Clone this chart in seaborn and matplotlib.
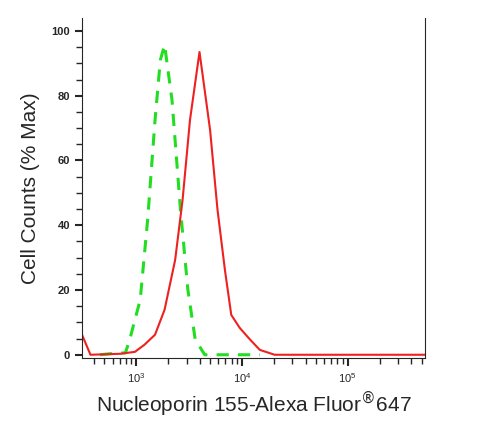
import numpy as np
import matplotlib
matplotlib.use("Agg")
import matplotlib.pyplot as plt
import seaborn as sns
import pandas as pd

# intensity (log10) and % max
red_log = [2.49, 2.57, 2.85, 2.99, 3.08, 3.18, 3.27, 3.37, 3.44, 3.51, 3.60,
           3.70, 3.77, 3.84, 3.90, 3.98, 4.08, 4.17, 4.31, 5.73]
red_val = [6.2, 0, 0.3, 0.9, 3.1, 6.2, 13.9, 29.3, 47.8, 72.5, 93.5,
           69.4, 44.8, 26.2, 12.3, 8.3, 4.6, 1.5, 0, 0]
green_log = [2.66, 2.75, 2.90, 2.94, 3.04, 3.11, 3.18, 3.23, 3.27, 3.34,
             3.42, 3.49, 3.56, 3.65, 4.17]
green_val = [0, 0.3, 0.6, 4.6, 17.0, 41.7, 72.5, 91.0, 95.7, 78.7,
             44.8, 20.1, 4.6, 0, 0]

df = pd.concat([
    pd.DataFrame({"x": 10 ** np.array(red_log), "y": red_val, "s": "stained"}),
    pd.DataFrame({"x": 10 ** np.array(green_log), "y": green_val, "s": "control"}),
])

sns.set_style("ticks")
plt.rcParams["font.family"] = ["Liberation Sans", "DejaVu Sans"]
fig = plt.figure(figsize=(5.02, 4.23), dpi=100)
ax = fig.add_axes([82 / 502, 65 / 423, 343 / 502, 340 / 423])
sns.lineplot(data=df[df.s == "control"], x="x", y="y", color="#22dd22",
             lw=2.2, ax=ax, dashes=False, linestyle=(0, (4, 3)))
sns.lineplot(data=df[df.s == "stained"], x="x", y="y", color="#ee2020",
             lw=1.5, ax=ax)
ax.set_xscale("log")
ax.set_xlim(10 ** 2.49, 10 ** 5.73)
ax.set_ylim(-1, 104)
ax.set_yticks([0, 20, 40, 60, 80, 100])
ax.set_yticks(np.arange(0, 101, 5), minor=True)
ax.tick_params(axis="y", labelsize=8, width=1.5, length=5)
ax.tick_params(axis="x", labelsize=8, width=1.5, length=6)
ax.tick_params(which="minor", length=4, width=1)
for t in ax.get_yticklabels():
    t.set_fontweight("bold")
ax.spines["top"].set_visible(False)
ax.set_xlabel("Nucleoporin 155-Alexa Fluor$^{®}$647", fontsize=15, labelpad=3)
ax.set_ylabel("Cell Counts (% Max)", fontsize=15, labelpad=8)
fig.savefig("out.png", dpi=100)
